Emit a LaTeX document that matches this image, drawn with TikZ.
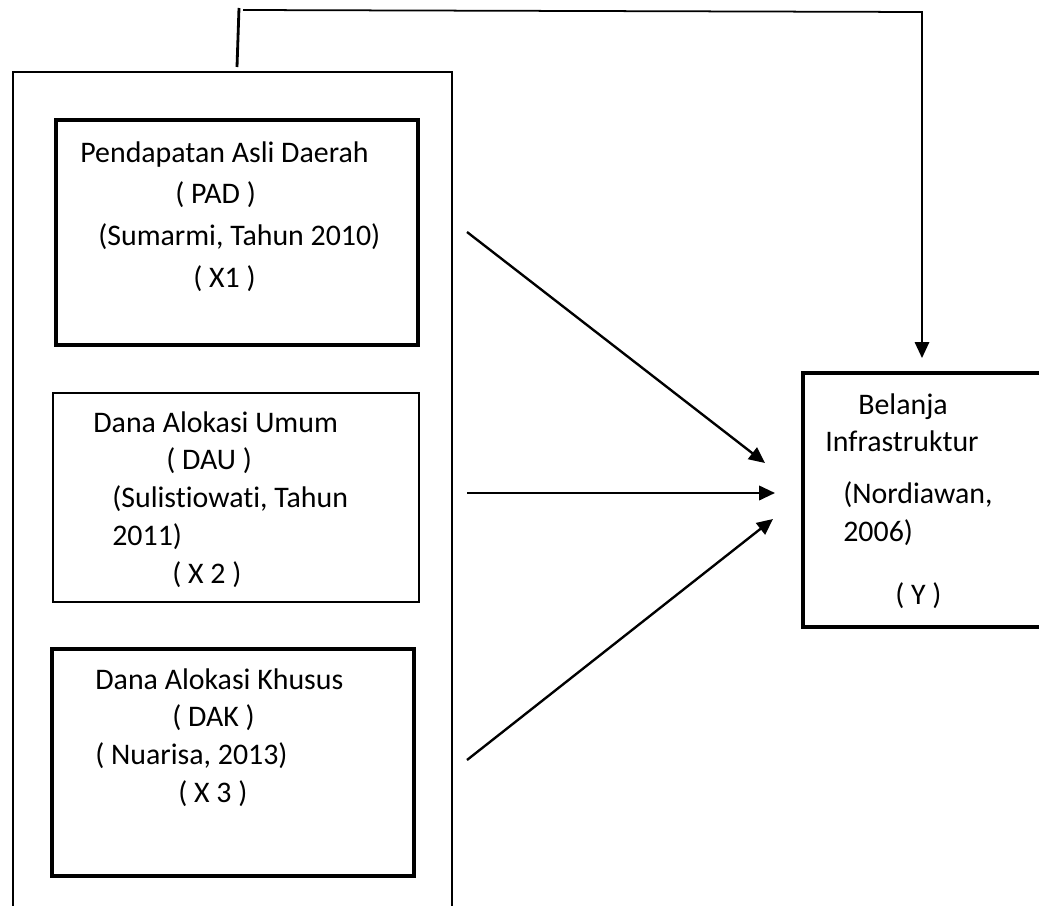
\documentclass[tikz,border=0pt]{standalone}
\usepackage{fontspec}
\setmainfont{Carlito}[Ligatures=NoCommon]
\usetikzlibrary{arrows.meta}
\tikzset{
	thickbox/.style={draw, line width=2pt},
	thinbox/.style={draw, line width=0.85pt},
	txt/.style={anchor=north west, inner sep=0pt, align=left, font=\fontsize{17}{21.5}\selectfont},
	link/.style={-{Triangle[length=0.32cm,width=0.29cm]}, line width=1.35pt}
}
\begin{document}
\begin{tikzpicture}[x=0.02cm,y=-0.02cm]
	\useasboundingbox (0,0) rectangle (1039,906);
	\node[thinbox, line width=1.1pt, minimum width=8.78cm, minimum height=17.2cm] (frame) at (232.5,502) {};
	\node[thickbox, minimum width=7.24cm, minimum height=4.5cm] (pad) at (237,232.5) {};
	\node[thinbox, minimum width=7.32cm, minimum height=4.18cm] (dau) at (236,497.5) {};
	\node[thickbox, minimum width=7.24cm, minimum height=4.54cm] (dak) at (233,762.5) {};
	\node[thickbox, minimum width=4.94cm, minimum height=5.08cm] (y) at (926.5,500) {};
	\node[txt, font=\fontsize{17}{23.8}\selectfont] (padtext) at (80,141) {Pendapatan Asli Daerah\\ \hspace*{1.9cm}( PAD )\\ \hspace*{0.36cm}(Sumarmi, Tahun 2010)\\ \hspace*{2.26cm}( X1 )};
	\node[txt] (dautext) at (93,411) {Dana Alokasi Umum\\ \hspace*{1.46cm}( DAU )\\ \hspace*{0.38cm}(Sulistiowati, Tahun\\ \hspace*{0.38cm}2011)\\ \hspace*{1.58cm}( X 2 )};
	\node[txt] (daktext) at (95,668) {Dana Alokasi Khusus\\ \hspace*{1.54cm}( DAK )\\ ( Nuarisa, 2013)\\ \hspace*{1.66cm}( X 3 )};
	\node[txt] (ytext) at (825,393) {\hspace*{0.66cm}Belanja\\ Infrastruktur\\[7.9pt] \hspace*{0.36cm}(Nordiawan,\\ \hspace*{0.36cm}2006)\\[14.7pt] \hspace*{1.4cm}( Y )};
	\coordinate (a1) at (467,232);
	\coordinate (t1) at (765,463);
	\coordinate (a2) at (467,493);
	\coordinate (t2) at (775,493);
	\coordinate (a3) at (467,760);
	\coordinate (t3) at (773,519);
	\coordinate (k1) at (237,67);
	\coordinate (k2) at (239,8);
	\coordinate (k3) at (243,10);
	\coordinate (k4) at (922,12);
	\coordinate (k5) at (922,358);
	\draw[link] (a1) -- (t1);
	\draw[link] (a2) -- (t2);
	\draw[link] (a3) -- (t3);
	\draw[line width=1.6pt] (k1) -- (k2);
	\draw[link, line width=1pt] (k3) -- (k4) -- (k5);
\end{tikzpicture}
\end{document}
